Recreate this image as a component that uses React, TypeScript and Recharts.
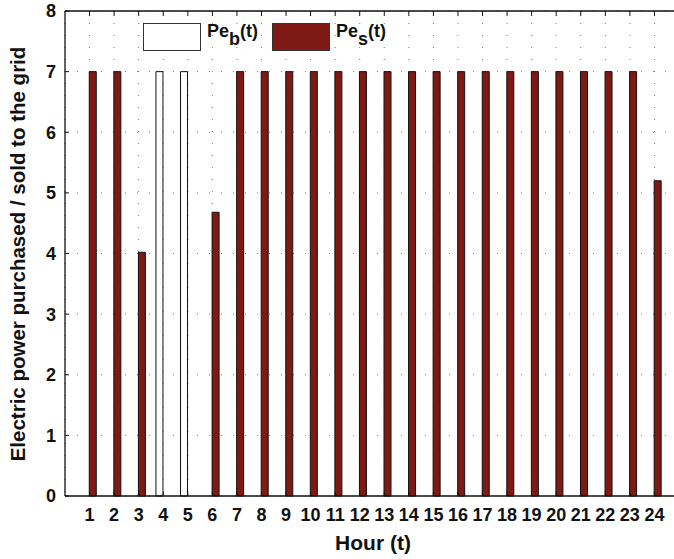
import React from "react";
import { Bar, BarChart, CartesianGrid, XAxis, YAxis } from "recharts";

const HOURS = [1, 2, 3, 4, 5, 6, 7, 8, 9, 10, 11, 12, 13, 14, 15, 16, 17, 18, 19, 20, 21, 22, 23, 24];
const PE_BOUGHT = [0, 0, 0, 7, 7, 0, 0, 0, 0, 0, 0, 0, 0, 0, 0, 0, 0, 0, 0, 0, 0, 0, 0, 0];
const PE_SOLD = [7, 7, 4.02, 0, 0, 4.68, 7, 7, 7, 7, 7, 7, 7, 7, 7, 7, 7, 7, 7, 7, 7, 7, 7, 5.2];
const Y_TICKS = [0, 1, 2, 3, 4, 5, 6, 7, 8];

const X_TITLE = "Hour (t)";
const Y_TITLE = "Electric power purchased / sold to the grid";

const SOLD_COLOR = "#7e1a13";
const BOUGHT_COLOR = "#ffffff";
const FONT = "'Liberation Sans', Arial, Helvetica, sans-serif";

const chartData = HOURS.map((hour, i) => ({
  hour,
  bought: PE_BOUGHT[i],
  sold: PE_SOLD[i],
}));

const tickStyle = { fontFamily: FONT, fontSize: 18, fontWeight: 700, fill: "#111" };

const LegendItem = ({ color, sub }: { color: string; sub: string }) => (
  <div style={{ display: "flex", alignItems: "flex-start", marginRight: 14 }}>
    <div
      style={{
        width: 56,
        height: 26,
        background: color,
        border: "1px solid #333",
      }}
    />
    <div
      style={{
        marginLeft: 6,
        marginTop: -2,
        fontFamily: FONT,
        fontSize: 18,
        fontWeight: 700,
        color: "#111",
        whiteSpace: "nowrap",
      }}
    >
      Pe
      <span style={{ position: "relative", top: 8 }}>{sub}</span>
      (t)
    </div>
  </div>
);

export default function App() {
  return (
    <div style={{ position: "relative", width: 674, height: 559, overflow: "hidden", background: "#fff" }}>
      <style>{`body{margin:0}`}</style>
      <BarChart
        width={690}
        height={559}
        data={chartData}
        margin={{ top: 11, right: 11, bottom: 0, left: 0 }}
        barGap={0}
        barSize={7}
      >
        <CartesianGrid stroke="#777" strokeDasharray="1 11" />
        <XAxis
          dataKey="hour"
          type="number"
          domain={[0, 25]}
          ticks={HOURS}
          interval={0}
          height={63}
          tickSize={-4}
          tickMargin={16}
          tick={tickStyle}
          tickLine={{ stroke: "#111" }}
          axisLine={{ stroke: "#111", strokeWidth: 1.3 }}
          label={() => (
            <text
              x={373}
              y={550}
              textAnchor="middle"
              fontFamily={FONT}
              fontSize={21}
              fontWeight={700}
              fill="#111"
            >
              {X_TITLE}
            </text>
          )}
        />
        <XAxis
          xAxisId="top"
          dataKey="hour"
          type="number"
          orientation="top"
          mirror
          domain={[0, 25]}
          ticks={HOURS}
          interval={0}
          tickSize={5}
          tick={() => <g />}
          tickLine={{ stroke: "#111" }}
          axisLine={{ stroke: "#111", strokeWidth: 1.3 }}
        />
        <YAxis
          domain={[0, 8]}
          ticks={Y_TICKS}
          interval={0}
          width={65}
          tickSize={-4}
          tickMargin={13}
          tick={tickStyle}
          tickLine={{ stroke: "#111" }}
          axisLine={{ stroke: "#111", strokeWidth: 1.3 }}
          label={() => {
            const cx = 25;
            const cy = 254;
            return (
              <text
                x={cx}
                y={cy}
                transform={`rotate(-90, ${cx}, ${cy})`}
                textAnchor="middle"
                fontFamily={FONT}
                fontSize={20.5}
                fontWeight={700}
                fill="#111"
              >
                {Y_TITLE}
              </text>
            );
          }}
        />
        <Bar dataKey="bought" fill={BOUGHT_COLOR} stroke="#111" strokeWidth={1} isAnimationActive={false} />
        <Bar dataKey="sold" fill={SOLD_COLOR} stroke="#111" strokeWidth={1} isAnimationActive={false} />
      </BarChart>
      <div style={{ position: "absolute", left: 143, top: 23, display: "flex" }}>
        <LegendItem color={BOUGHT_COLOR} sub="b" />
        <LegendItem color={SOLD_COLOR} sub="s" />
      </div>
    </div>
  );
}
